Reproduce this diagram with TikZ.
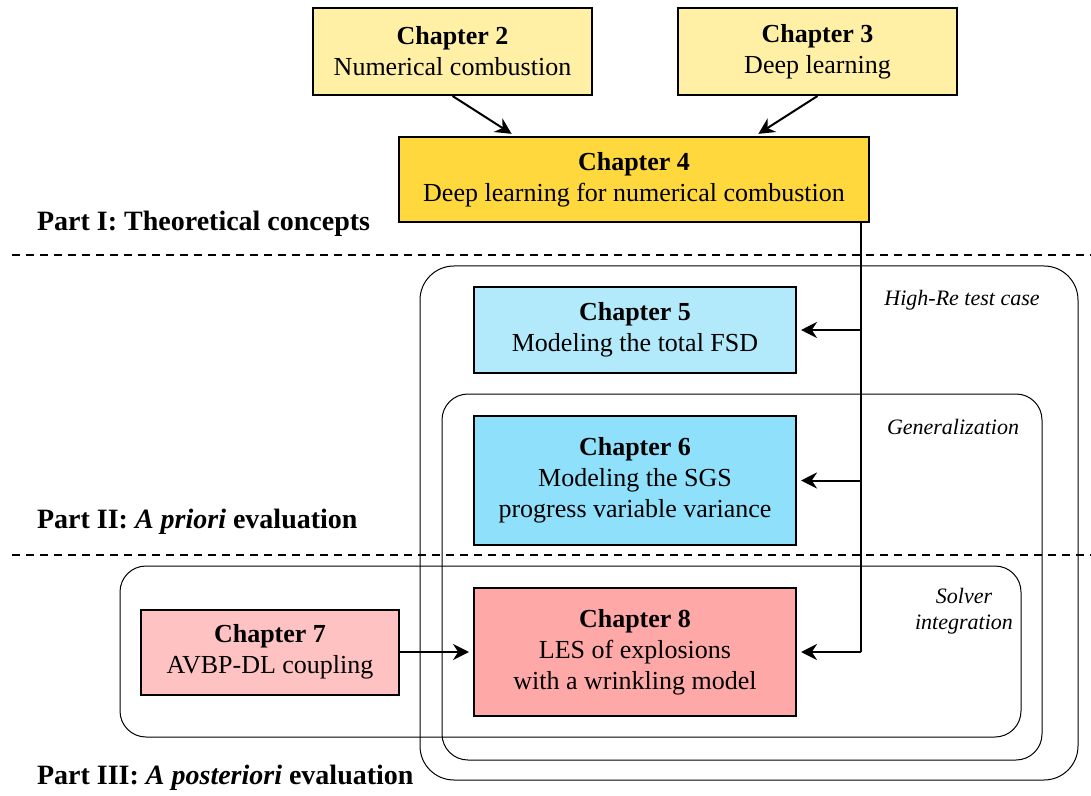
\documentclass[tikz,border=0pt]{standalone}
\usepackage{fontspec}
\setmainfont{Liberation Serif}
\usetikzlibrary{arrows.meta,positioning}

\definecolor{yellowA}{HTML}{FFF0A6}
\definecolor{yellowB}{HTML}{FFD83D}
\definecolor{blueA}{HTML}{B3EAFB}
\definecolor{blueB}{HTML}{8FE0FA}
\definecolor{redA}{HTML}{FFC2C2}
\definecolor{redB}{HTML}{FFA8A8}

\tikzset{
  chap/.style={draw,line width=1pt,align=center,inner sep=0pt,
    font=\fontsize{13}{15.5}\selectfont},
  arr/.style={-{Stealth[length=8pt,width=8pt]},line width=1pt,shorten >=2pt},
  frame/.style={draw,line width=0.5pt,rounded corners=#1},
  grouplabel/.style={font=\fontsize{11}{13}\selectfont\itshape,align=center},
  partlabel/.style={anchor=west,font=\fontsize{14}{16}\selectfont\bfseries},
  sep/.style={dashed,dash pattern=on 4pt off 3pt,line width=0.75pt}
}

\begin{document}
\begin{tikzpicture}[x=0.5pt,y=-0.5pt]
\useasboundingbox (0,0) rectangle (1091,796);

% Group frames
\draw[frame=17pt] (420,266) rectangle (1078,780);
\draw[frame=13pt] (442,394) rectangle (1042,760);
\draw[frame=13pt] (120,566) rectangle (1021,737);
\node[grouplabel] (lhighre) at (962,300) {High-Re test case};
\node[grouplabel] (lgen) at (953,427) {Generalization};
\node[grouplabel] (lsolver) at (964,611) {Solver\\integration};

% Part separators
\draw[sep] (12,255) -- (1091,255);
\draw[sep] (12,555) -- (1091,555);
\node[partlabel] (p1) at (30,224) {Part I: Theoretical concepts};
\node[partlabel] (p2) at (30,522) {Part II: \textit{A priori} evaluation};
\node[partlabel] (p3) at (30,778) {Part III: \textit{A posteriori} evaluation};

% Chapters
\node[chap,fill=yellowA,minimum width=139.5pt,minimum height=43.5pt] (ch2) at (452.5,51.5)
  {\textbf{Chapter 2}\\Numerical combustion};
\node[chap,fill=yellowA,minimum width=139.5pt,minimum height=43.5pt] (ch3) at (817.5,51.5)
  {\textbf{Chapter 3}\\Deep learning};
\node[chap,fill=yellowB,minimum width=235pt,minimum height=42.5pt] (ch4) at (634,179.5)
  {\textbf{Chapter 4}\\Deep learning for numerical combustion};
\node[chap,fill=blueA,minimum width=161pt,minimum height=43pt] (ch5) at (635,330)
  {\textbf{Chapter 5}\\Modeling the total FSD};
\node[chap,fill=blueB,minimum width=161pt,minimum height=64.5pt] (ch6) at (635,480.5)
  {\textbf{Chapter 6}\\Modeling the SGS\\progress variable variance};
\node[chap,fill=redA,minimum width=129pt,minimum height=42.5pt] (ch7) at (270,652)
  {\textbf{Chapter 7}\\AVBP-DL coupling};
\node[chap,fill=redB,minimum width=161pt,minimum height=64pt] (ch8) at (635,652)
  {\textbf{Chapter 8}\\LES of explosions\\with a wrinkling model};

% Arrows
\draw[arr] (ch2.south) -- ([xshift=-59.5pt]ch4.north);
\draw[arr] (ch3.south) -- ([xshift=60.5pt]ch4.north);
\coordinate (bus) at (861,222);
\draw[line width=1pt] (bus) -- (bus |- ch8.east);
\draw[arr] (bus |- ch5.east) -- (ch5.east);
\draw[arr] (bus |- ch6.east) -- (ch6.east);
\draw[arr] (bus |- ch8.east) -- (ch8.east);
\draw[arr] (ch7.east) -- (ch7.east -| ch8.west);
\end{tikzpicture}
\end{document}
